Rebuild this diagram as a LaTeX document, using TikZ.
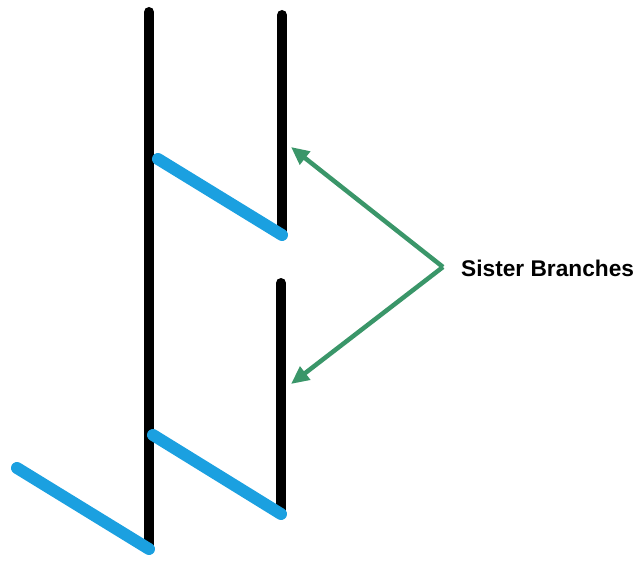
\documentclass[tikz,border=0pt]{standalone}
\usepackage{fontspec}
\setmainfont{Liberation Sans}
\usetikzlibrary{arrows.meta}
\definecolor{branchblue}{RGB}{27,160,224}
\definecolor{arrowgreen}{RGB}{58,150,105}
\begin{document}
\begin{tikzpicture}[x=1pt,y=-1pt,
  stem/.style={line width=10pt,line cap=round,black},
  twig/.style={line width=12pt,line cap=round,branchblue},
  pointer/.style={line width=4.5pt,arrowgreen,-{Triangle[length=18pt,width=16pt]}}]
\useasboundingbox (0,0) rectangle (640,564);
% coordinates
\coordinate (mtop) at (149,12);
\coordinate (mbot) at (149,549);
\coordinate (r1top) at (282,15);
\coordinate (r1bot) at (282,235);
\coordinate (r2top) at (281,283);
\coordinate (r2bot) at (281,514);
\coordinate (b1s) at (158,159);
\coordinate (b2s) at (153,435);
\coordinate (b3s) at (17,468);
\coordinate (t1) at (291,147);
\coordinate (t2) at (291,384);
% stems
\draw[stem] (mtop) -- (mbot);
\draw[stem] (r1top) -- (r1bot);
\draw[stem] (r2top) -- (r2bot);
% blue branches
\draw[twig] (b1s) -- (r1bot);
\draw[twig] (b2s) -- (r2bot);
\draw[twig] (b3s) -- (mbot);
% label
\node[anchor=west,inner sep=0pt,font=\bfseries\fontsize{22.7}{26}\selectfont] (lab) at (461,268) {Sister Branches};
\coordinate (v) at (443,267);
\draw[pointer] (v) -- (t1);
\draw[pointer] (v) -- (t2);
\end{tikzpicture}
\end{document}
